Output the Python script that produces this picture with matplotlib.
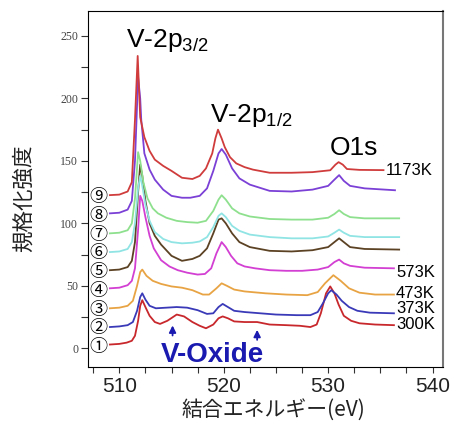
import matplotlib
matplotlib.use('Agg')
import matplotlib.pyplot as plt
from matplotlib.ticker import MultipleLocator

plt.rcParams['font.family'] = ['Liberation Sans', 'DejaVu Sans']
plt.rcParams['mathtext.fontset'] = 'custom'
plt.rcParams['mathtext.rm'] = 'Liberation Sans'
plt.rcParams['mathtext.default'] = 'rm'

# spectra, bottom (300K) to top (1173K)
e1 = [509.1, 510.0, 510.7, 511.2, 511.5, 511.8, 512.0, 512.2, 512.5, 512.9, 513.4, 513.9, 514.6, 515.5,
      516.2, 517.0, 517.7, 518.3, 519.0, 519.5, 519.9, 520.4, 521.0, 522.0, 523.2, 524.4, 526.0, 527.3,
      528.3, 528.9, 529.3, 529.8, 530.2, 530.6, 531.0, 531.5, 532.2, 533.0, 534.5, 536.3]
i1 = [3, 3.5, 4.5, 6, 10, 22, 34, 38.5, 33, 26, 21, 19.5, 22, 27,
      25.5, 21, 18, 16, 19, 24, 25.5, 24, 21.5, 21, 21, 19, 18.5, 18,
      17, 19, 28, 44, 49.5, 44, 35, 26, 22, 20, 19, 18.5]

e2 = [509.1, 510.0, 510.8, 511.3, 511.7, 512.0, 512.2, 512.5, 512.9, 513.5, 514.5, 515.5, 516.5, 517.5,
      518.4, 519.0, 519.5, 519.9, 520.4, 521.0, 522.0, 523.5, 525.0, 527.0, 528.3, 529.0, 529.5, 530.0,
      530.3, 530.8, 531.3, 532.0, 532.8, 534.0, 536.3]
i2 = [17, 17.5, 18.5, 21, 30, 41, 44, 39, 34, 32, 32.5, 33, 32.5, 30.5,
      27.5, 28, 33, 35.5, 33, 30, 29, 28, 27, 26.5, 26.5, 29, 36, 44,
      46.5, 43, 38, 33, 30, 28.5, 28]

e3 = [509.1, 510.0, 510.8, 511.3, 511.7, 512.0, 512.2, 512.6, 513.2, 514.0, 515.0, 516.0, 517.0, 518.0,
      518.6, 519.3, 519.8, 520.3, 521.0, 522.0, 524.0, 526.0, 528.0, 529.0, 529.7, 530.5, 531.2, 532.0,
      533.0, 534.5, 536.3]
i3 = [32, 32.5, 34, 38, 50, 61, 63, 58, 54, 51.5, 49.5, 48.5, 46.5, 43,
      43, 48, 52, 50, 47, 45.5, 44, 43, 42.5, 45, 52, 58.5, 54, 48,
      44.5, 43, 43]

e4 = [509.1, 510.0, 510.8, 511.2, 511.5, 511.8, 512.0, 512.2, 512.5, 512.9, 513.3, 514.0, 514.8, 515.6,
      516.5, 517.5, 518.2, 518.8, 519.3, 519.8, 520.2, 520.7, 521.3, 522.0, 523.0, 524.4, 526.0, 527.5,
      529.0, 530.0, 530.6, 531.05, 531.5, 532.1, 533.5, 536.3]
i4 = [48, 48.5, 50.5, 54, 64, 95, 122, 118, 105, 90, 80, 70.5, 65.5, 62.5,
      60.5, 59, 59.5, 64, 76, 85, 81, 74, 68, 65.5, 64, 62.5, 62, 62,
      63, 65, 69, 71, 68, 66, 64.5, 64]

e5 = [509.1, 510.0, 510.8, 511.2, 511.5, 511.8, 512.0, 512.2, 512.5, 512.9, 513.4, 514.0, 515.0, 516.0,
      517.0, 517.7, 518.4, 519.0, 519.5, 519.8, 520.2, 520.8, 521.5, 522.5, 524.4, 526.5, 528.5, 530.0,
      530.6, 531.05, 531.5, 532.1, 533.5, 536.8]
i5 = [62.5, 63, 65, 70, 85, 125, 147, 138, 118, 100, 90, 83, 74, 70,
      71.5, 74, 80, 92, 103, 104, 100, 92, 85, 81, 78, 77.5, 78.5, 81,
      85, 88, 85, 81, 79.5, 79]

e6 = [509.1, 510.0, 510.8, 511.2, 511.5, 511.8, 512.0, 512.2, 512.5, 512.9, 513.4, 514.2, 515.0, 516.0,
      517.0, 517.7, 518.4, 519.0, 519.5, 519.8, 520.2, 520.8, 521.5, 522.5, 524.4, 526.5, 528.5, 530.0,
      530.6, 531.05, 531.5, 532.1, 533.5, 536.8]
i6 = [77, 77.5, 79.5, 85, 100, 128, 138, 130, 115, 102, 93, 87.5, 85, 84,
      84.5, 85.5, 89, 97, 106, 108, 105, 98, 94, 91, 89, 88, 88, 89.5,
      92.5, 95, 92.5, 90, 89, 89]

e7 = [509.1, 510.0, 510.8, 511.2, 511.5, 511.8, 512.0, 512.3, 512.7, 513.2, 513.7, 514.5, 515.5, 516.5,
      517.5, 518.3, 519.0, 519.5, 519.8, 520.2, 520.8, 521.5, 522.5, 524.4, 526.5, 528.5, 530.0, 530.6,
      531.05, 531.5, 532.1, 533.5, 536.8]
i7 = [92, 92.5, 94.5, 100, 120, 157, 150, 133, 120, 112, 108, 104.5, 102, 101,
      100.5, 102, 110, 119, 122.5, 119, 112, 108, 105.5, 103.5, 103, 103, 104.5, 107.5,
      110.5, 107.5, 105, 104, 104]

e8 = [509.1, 510.0, 510.8, 511.2, 511.5, 511.8, 512.0, 512.1, 512.4, 512.9, 513.4, 514.2, 515.0, 516.0,
      516.8, 517.7, 518.4, 519.0, 519.5, 519.8, 520.2, 520.8, 521.5, 522.5, 524.4, 526.5, 528.5, 530.0,
      530.6, 531.05, 531.5, 532.1, 533.5, 536.4]
i8 = [108, 108.5, 111, 118, 150, 217, 200, 183, 156, 143, 135, 127, 122, 120.5,
      120.5, 122, 128, 142, 156, 159.5, 155, 144, 136, 131, 126, 125.5, 127, 130,
      135, 138.6, 134, 130, 128, 126.5]

e9 = [509.1, 510.0, 510.8, 511.2, 511.5, 511.76, 512.0, 512.4, 512.9, 513.4, 514.2, 515.0, 516.0, 517.0,
      517.7, 518.3, 518.9, 519.2, 519.45, 519.8, 520.1, 520.6, 521.2, 522.0, 522.8, 524.4, 526.5, 528.5,
      530.2, 530.7, 531.0, 531.4, 531.8, 533.0, 535.3]
i9 = [122.6, 123, 125.5, 133, 183, 234, 185, 169, 158, 151, 146, 142, 136.5, 135.5,
      138, 144, 156, 168, 175, 168, 161, 153, 148, 145, 143, 140.5, 140.5, 141,
      142.5, 147, 149, 147, 143.5, 142.8, 142.6]

energies = [e1, e2, e3, e4, e5, e6, e7, e8, e9]
intens = [i1, i2, i3, i4, i5, i6, i7, i8, i9]
colors = ['#c8282c', '#3a3ab8', '#e8a444', '#d23fd2', '#5c4224',
          '#90e4e4', '#8ee08e', '#7b40d6', '#d03c3c']
markers = ['①', '②', '③', '④', '⑤', '⑥', '⑦', '⑧', '⑨']
marker_y = [1, 16, 31, 46, 61, 76, 90.5, 106, 121]
temps = ['300K', '373K', '473K', '573K', '1173K']
temp_y = [19, 31.5, 44, 61, 142.6]
temp_x = [536.5, 536.5, 536.5, 536.5, 535.5]

fig = plt.figure(figsize=(4.54, 4.29), dpi=100)
ax = fig.add_axes([0.1938, 0.1445, 0.782, 0.8299])

for e, y, c in zip(energies, intens, colors):
    ax.plot(e, y, color=c, lw=1.3)

for m, y in zip(markers, marker_y):
    ax.text(508.0, y, m, family=['Noto Sans CJK JP', 'DejaVu Sans'], fontsize=13,
            ha='center', va='center')

for t, x, y in zip(temps, temp_x, temp_y):
    ax.text(x, y, t, fontsize=12, ha='left', va='center')

ax.text(510.6, 241, 'V-2p$_{3/2}$', fontsize=19, ha='left', va='baseline')
ax.text(518.65, 181, 'V-2p$_{1/2}$', fontsize=19, ha='left', va='baseline')
ax.text(530.2, 154.6, 'O1s', fontsize=19, ha='left', va='baseline')

ax.text(514.0, -11.2, 'V-Oxide', fontsize=20, fontweight='bold', color='#1a1ab0',
        ha='left', va='baseline')
ax.annotate('', xy=(515.1, 20.5), xytext=(515.1, 8),
            arrowprops=dict(arrowstyle='-|>', color='#1a1ab0', lw=1.3, mutation_scale=10))
ax.annotate('', xy=(523.2, 17), xytext=(523.2, 4.5),
            arrowprops=dict(arrowstyle='-|>', color='#1a1ab0', lw=1.3, mutation_scale=10))

ax.set_xlim(507, 541)
ax.set_ylim(-15, 270)
ax.xaxis.set_major_locator(MultipleLocator(10))
ax.xaxis.set_minor_locator(MultipleLocator(2.5))
ax.yaxis.set_major_locator(MultipleLocator(50))
ax.yaxis.set_minor_locator(MultipleLocator(25))
ax.tick_params(axis='x', which='both', direction='out', length=4, width=0.8,
               labelsize=15, pad=3, color='#333333', labelcolor='#222222')
ax.tick_params(axis='y', which='both', direction='out', length=5, width=0.8,
               labelsize=8.5, pad=2, color='#333333', labelcolor='#444444')
for lab in ax.get_yticklabels():
    lab.set_family('Liberation Serif')
ax.spines['right'].set_color('#777777')
ax.spines['right'].set_linewidth(1.5)

fig.text(273 / 454, 1 - 410 / 429, '結合エネルギー(eV)', family=['Noto Sans CJK JP', 'DejaVu Sans'],
         fontsize=15, ha='center', va='center', color='#222222')
fig.text(24 / 454, 1 - 198 / 429, '規格化強度', family=['Noto Sans CJK JP', 'DejaVu Sans'],
         fontsize=15.5, ha='center', va='center', rotation=90, color='#222222')

fig.savefig('out.png', dpi=100)
